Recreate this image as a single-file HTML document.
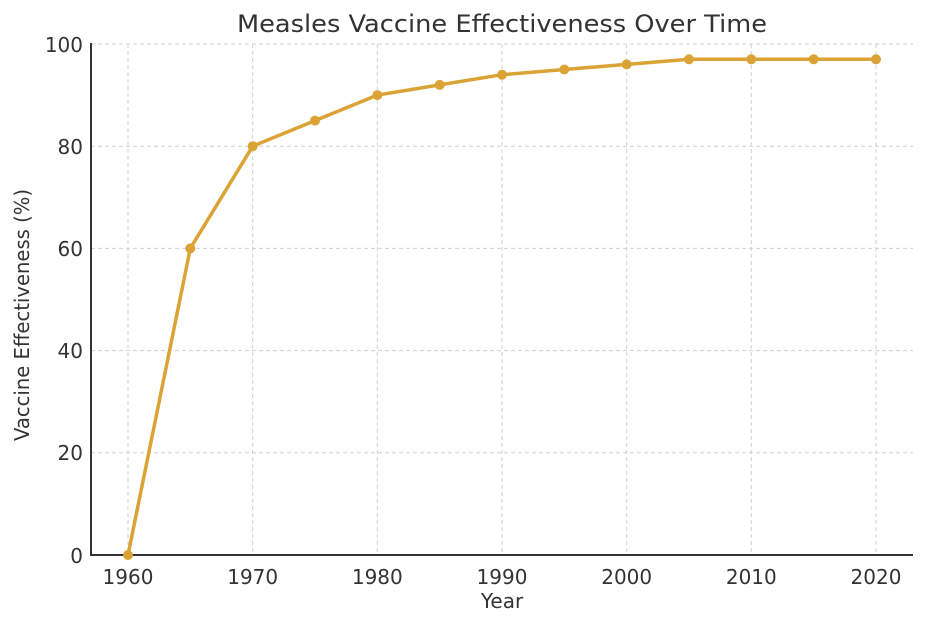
<!DOCTYPE html>
<html><head><style>body{margin:0;background:#fff}</style></head><body>
<svg width="926" height="626" xmlns="http://www.w3.org/2000/svg" font-family="DejaVu Sans, Liberation Sans, sans-serif">
<rect width="926" height="626" fill="#fff"/>
<g stroke="#d0d0d0" stroke-dasharray="4,3" stroke-width="1">
<line x1="91" x2="913" y1="44" y2="44"/><line x1="91" x2="913" y1="146.2" y2="146.2"/><line x1="91" x2="913" y1="248.4" y2="248.4"/><line x1="91" x2="913" y1="350.6" y2="350.6"/><line x1="91" x2="913" y1="452.8" y2="452.8"/>
<line x1="128" x2="128" y1="44" y2="555"/><line x1="252.7" x2="252.7" y1="44" y2="555"/><line x1="377.3" x2="377.3" y1="44" y2="555"/><line x1="502" x2="502" y1="44" y2="555"/><line x1="626.7" x2="626.7" y1="44" y2="555"/><line x1="751.3" x2="751.3" y1="44" y2="555"/><line x1="876" x2="876" y1="44" y2="555"/>
</g>
<line x1="91" y1="43" x2="91" y2="556" stroke="#333" stroke-width="2"/>
<line x1="90" y1="555" x2="913" y2="555" stroke="#333" stroke-width="2"/>
<polyline fill="none" stroke="#DBA336" stroke-width="3.5" stroke-linejoin="round" points="128,555 190.3,248.4 252.7,146.2 315,120.6 377.3,95.1 439.7,84.9 502,74.7 564.3,69.5 626.7,64.4 689,59.3 751.3,59.3 813.7,59.3 876,59.3"/>
<g fill="#DBA336">
<circle cx="128" cy="555" r="5"/><circle cx="190.3" cy="248.4" r="5"/><circle cx="252.7" cy="146.2" r="5"/><circle cx="315" cy="120.6" r="5"/><circle cx="377.3" cy="95.1" r="5"/><circle cx="439.7" cy="84.9" r="5"/><circle cx="502" cy="74.7" r="5"/><circle cx="564.3" cy="69.5" r="5"/><circle cx="626.7" cy="64.4" r="5"/><circle cx="689" cy="59.3" r="5"/><circle cx="751.3" cy="59.3" r="5"/><circle cx="813.7" cy="59.3" r="5"/><circle cx="876" cy="59.3" r="5"/>
</g>
<g fill="#333" font-size="20" text-anchor="end">
<text x="83" y="52">100</text><text x="83" y="154">80</text><text x="83" y="256">60</text><text x="83" y="358">40</text><text x="83" y="460">20</text><text x="83" y="563">0</text>
</g>
<g fill="#333" font-size="20" text-anchor="middle">
<text x="128" y="584">1960</text><text x="252.7" y="584">1970</text><text x="377.3" y="584">1980</text><text x="502" y="584">1990</text><text x="626.7" y="584">2000</text><text x="751.3" y="584">2010</text><text x="876" y="584">2020</text>
<text x="502" y="608">Year</text>
<text x="502" y="32" font-size="24" textLength="530" lengthAdjust="spacingAndGlyphs">Measles Vaccine Effectiveness Over Time</text>
<text transform="translate(29,315) rotate(-90)" textLength="252" lengthAdjust="spacingAndGlyphs">Vaccine Effectiveness (%)</text>
</g>
</svg>
</body></html>
